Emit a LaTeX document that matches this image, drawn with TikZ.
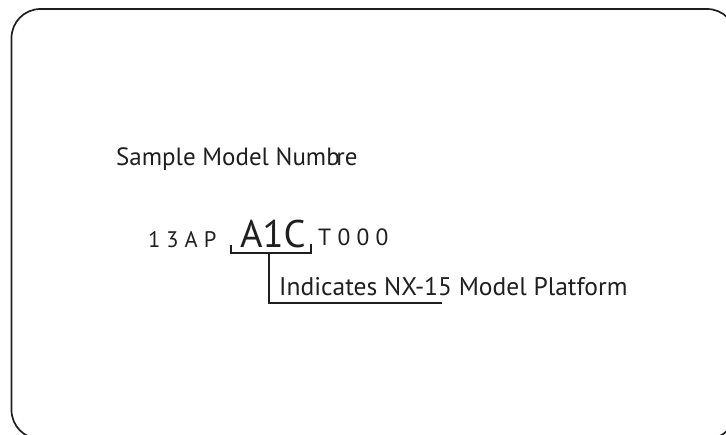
\documentclass[tikz,border=0pt]{standalone}
\usepackage{fontspec}
\setmainfont{PT Sans}
\tikzset{
  lbl/.style={anchor=base west, inner sep=0pt, text=black!88},
  brk/.style={line width=1.9pt, draw=black!88},
  frame/.style={line width=1.7pt, draw=black!88, rounded corners=29pt}
}
\begin{document}
\begin{tikzpicture}[x=1pt,y=-1pt]
\useasboundingbox (0,0) rectangle (726,435);
\clip (0,0) rectangle (726,435);
\draw[frame] (11.5,9) rectangle (736,439);
\node[lbl, font=\fontsize{25}{29}\selectfont] (title) at (116,166) {Sample Model Numb\kern-3.5pt re};
\node[lbl, font=\fontsize{22.5}{26}\selectfont] (pre) at (148,248) {1 3 A P};
\node[lbl, font=\fontsize{38.5}{42}\selectfont] (code) at (240,248) {A1C};
\node[lbl, font=\fontsize{23.5}{27}\selectfont] (post) at (318,246) {T 0 0 0};
\node[lbl, font=\fontsize{25.5}{30}\selectfont] (desc) at (279,296) {Indicates NX-15 Model Platform};
\coordinate (bl) at (231,245);
\coordinate (br) at (311,244);
\coordinate (bm) at (269,253);
\coordinate (tail) at (442,303);
\draw[brk, line join=miter] (bl) -- (bl |- bm) -- (br |- bm) -- (br);
\draw[brk, line join=miter] (bm) -- (bm |- tail) -- (tail);
\end{tikzpicture}
\end{document}
